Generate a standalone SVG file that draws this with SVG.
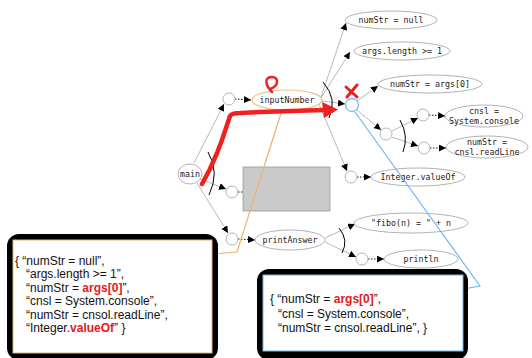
<svg xmlns="http://www.w3.org/2000/svg" width="532" height="358" viewBox="0 0 532 358">
<defs>
<marker id="ah" viewBox="0 0 10 10" refX="10" refY="5" markerWidth="7" markerHeight="7" markerUnits="userSpaceOnUse" orient="auto"><path d="M0,0 L10,5 L0,10 z" fill="#000"/></marker>
<style>
.e{fill:#fff;stroke:#aaa;stroke-width:0.9}
.c{fill:#fff;stroke:#aaa;stroke-width:0.9}
.t{font-family:"DejaVu Sans Mono","Liberation Mono",monospace;font-size:8.3px;fill:#222;text-anchor:middle}
.l{stroke:#999;stroke-width:0.7;fill:none}
.d{stroke:#000;stroke-width:0.9;stroke-dasharray:1.5,1.5;fill:none}
.arc{stroke:#000;stroke-width:1;fill:none}
.bt{font-family:"Liberation Sans",Arial,sans-serif;font-size:12px;fill:#111}
.r{fill:#e02020;font-weight:bold}
</style>
</defs>
<rect width="532" height="358" fill="#fff"/>
<g id="connectors">
<path class="l" d="M194,163 L224,104" marker-end="url(#ah)"/>
<path class="l" d="M200,179 L226,189" marker-end="url(#ah)"/>
<path class="l" d="M197,183 L228,233" marker-end="url(#ah)"/>
<path class="d" d="M235,99 L251,100" marker-end="url(#ah)"/>
<path class="d" d="M238,192 L254,192" marker-end="url(#ah)"/>
<path class="d" d="M238,239 L255,240" marker-end="url(#ah)"/>
<path class="l" d="M321,97 L346,23" marker-end="url(#ah)"/>
<path class="l" d="M321,98 L350,52" marker-end="url(#ah)"/>
<path class="l" d="M322,101 L345,104" marker-end="url(#ah)"/>
<path class="l" d="M319,104 L347,171" marker-end="url(#ah)"/>
<path class="l" d="M357,101 L378,86" marker-end="url(#ah)"/>
<path class="l" d="M357,110 L381,130" marker-end="url(#ah)"/>
<path class="l" d="M392,131 L418,118" marker-end="url(#ah)"/>
<path class="l" d="M392,137 L418,146" marker-end="url(#ah)"/>
<path class="d" d="M429,115 L445,116" marker-end="url(#ah)"/>
<path class="d" d="M430,148 L446,148" marker-end="url(#ah)"/>
<path class="d" d="M357,177 L371,177" marker-end="url(#ah)"/>
<path class="l" d="M325,238 L355,224" marker-end="url(#ah)"/>
<path class="l" d="M325,242 L356,257" marker-end="url(#ah)"/>
<path class="d" d="M368,259 L384,259" marker-end="url(#ah)"/>
<path class="arc" d="M208,152 Q220,172 209,195"/>
<path class="arc" d="M323,82 Q338,99 329,118"/>
<path class="arc" d="M400,120 Q409,136 403,152"/>
<path class="arc" d="M339,228 Q349,240 342,253"/>
</g>
<g id="main"><ellipse class="e" cx="190" cy="174" rx="12" ry="10"/><text class="t" x="190" y="177">main</text></g>
<g id="c1"><circle class="c" cx="229" cy="99" r="6"/></g>
<g id="c2"><circle class="c" cx="232" cy="192" r="6"/></g>
<g id="c3"><circle class="c" cx="232" cy="239" r="6"/></g>
<g id="grey"><rect x="243" y="167" width="87" height="44" fill="#c9c9c9" stroke="#9a9a9a" stroke-width="0.8"/></g>
<g id="inputNumber"><ellipse cx="287" cy="100" rx="35" ry="10" fill="#fff" stroke="#f0c090" stroke-width="1.2"/><text class="t" x="287" y="103">inputNumber</text></g>
<g id="printAnswer"><ellipse class="e" cx="290" cy="240" rx="35" ry="10"/><text class="t" x="290" y="243">printAnswer</text></g>
<g id="n1"><ellipse class="e" cx="391" cy="20" rx="46" ry="9"/><text class="t" x="391" y="23">numStr = null</text></g>
<g id="n2"><ellipse class="e" cx="402" cy="51" rx="48" ry="9"/><text class="t" x="402" y="54">args.length &gt;= 1</text></g>
<g id="blue"><circle cx="352" cy="105" r="6.5" fill="#fff" stroke="#7cbcf0" stroke-width="1.3"/></g>
<g id="n3"><ellipse class="e" cx="430" cy="84" rx="52" ry="9"/><text class="t" x="430" y="87">numStr = args[0]</text></g>
<g id="c4"><circle class="c" cx="386" cy="134" r="6"/></g>
<g id="c5"><circle class="c" cx="423" cy="115" r="6"/></g>
<g id="c6"><circle class="c" cx="424" cy="148" r="6"/></g>
<g id="n4"><ellipse class="e" cx="484" cy="116" rx="39" ry="11"/><text class="t" x="484" y="114">cnsl =</text><text class="t" x="484" y="124">System.console</text></g>
<g id="n5"><ellipse class="e" cx="487" cy="147" rx="41" ry="11"/><text class="t" x="487" y="145">numStr =</text><text class="t" x="487" y="155">cnsl.readLine</text></g>
<g id="c7"><circle class="c" cx="351" cy="177" r="6"/></g>
<g id="n6"><ellipse class="e" cx="418" cy="177" rx="47" ry="9"/><text class="t" x="418" y="180">Integer.valueOf</text></g>
<g id="n7"><ellipse class="e" cx="411" cy="223" rx="57" ry="10"/><text class="t" x="411" y="226">"fibo(n) = " + n</text></g>
<g id="c8"><circle class="c" cx="362" cy="259" r="6"/></g>
<g id="n8"><ellipse class="e" cx="421" cy="259" rx="37" ry="9"/><text class="t" x="421" y="262">println</text></g>
<g id="annotations">
<polyline points="282,110 237,252 213,254" fill="none" stroke="#f0b070" stroke-width="1.2"/>
<polyline points="355,112 480,286 463,289" fill="none" stroke="#70b8f0" stroke-width="1.2"/>
<path d="M202,184 L210,169 L217,153 L222,140 L226,128 L230,116 Q232,113 240,113 L260,112 L324,110" fill="none" stroke="#f02020" stroke-width="4.5" stroke-linejoin="round" stroke-linecap="round"/>
<polygon points="322,102 338,109.5 324,118" fill="#f02020"/>
<path d="M272,92 C264,84 265,77 272,77 C279,77 279,86 270,89" fill="none" stroke="#f02020" stroke-width="2.5" stroke-linecap="round"/>
<path d="M346,87 L357,97 M357,85 L347,97" stroke="#e82020" stroke-width="3" stroke-linecap="round"/>
</g>
<g id="box1">
<rect x="7" y="234" width="211" height="126" rx="12" fill="#000"/>
<rect x="13" y="240" width="199" height="113" fill="#fff" stroke="#e8b070" stroke-width="1"/>
<text class="bt" x="15" y="265">{ “numStr = null”,</text>
<text class="bt" x="26" y="278.4">“args.length &gt;= 1”,</text>
<text class="bt" x="26" y="291.8">“numStr = <tspan class="r">args[0]</tspan>”,</text>
<text class="bt" x="26" y="305.2">“cnsl = System.console”,</text>
<text class="bt" x="26" y="318.6">“numStr = cnsol.readLine”,</text>
<text class="bt" x="26" y="332">“Integer.<tspan class="r">valueOf</tspan>” }</text>
</g>
<g id="box2">
<rect x="257" y="269" width="211" height="91" rx="12" fill="#000"/>
<rect x="263" y="275" width="200" height="76" fill="#fff" stroke="#70b8f0" stroke-width="1"/>
<text class="bt" x="270" y="303">{ “numStr = <tspan class="r">args[0]</tspan>”,</text>
<text class="bt" x="278" y="317.5">“cnsl = System.console”,</text>
<text class="bt" x="278" y="332">“numStr = cnsol.readLine”, }</text>
</g>
</svg>
